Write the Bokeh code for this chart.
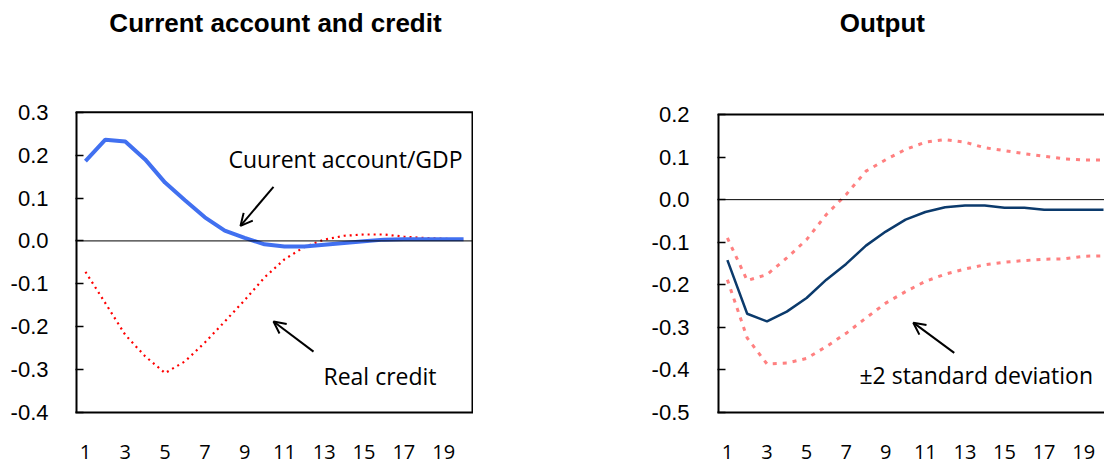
from bokeh.plotting import figure
from bokeh.layouts import row
from bokeh.models import Range1d, FixedTicker, Span, Arrow, OpenHead, Label, NumeralTickFormatter
from bokeh.embed import file_html
from bokeh.resources import INLINE

# ---------------- data ----------------
periods = list(range(1, 21))
x_tick_values = [1, 3, 5, 7, 9, 11, 13, 15, 17, 19]

current_account = [0.186, 0.236, 0.232, 0.190, 0.136, 0.095, 0.055, 0.024, 0.007, -0.008,
                   -0.013, -0.013, -0.009, -0.005, -0.001, 0.003, 0.004, 0.004, 0.004, 0.004]
real_credit = [-0.072, -0.145, -0.219, -0.269, -0.308, -0.281, -0.237, -0.188, -0.138, -0.085,
               -0.043, -0.014, 0.003, 0.012, 0.015, 0.015, 0.010, 0.007, 0.005, 0.003]

output = [-0.142, -0.268, -0.286, -0.263, -0.231, -0.188, -0.151, -0.108, -0.075, -0.047,
          -0.029, -0.018, -0.014, -0.014, -0.019, -0.019, -0.024, -0.024, -0.024, -0.024]
output_upper = [-0.090, -0.190, -0.176, -0.137, -0.094, -0.035, 0.012, 0.067, 0.094, 0.118,
                0.135, 0.141, 0.135, 0.122, 0.115, 0.108, 0.102, 0.096, 0.093, 0.093]
output_lower = [-0.188, -0.325, -0.386, -0.384, -0.373, -0.345, -0.314, -0.278, -0.243, -0.216,
                -0.192, -0.175, -0.163, -0.153, -0.147, -0.143, -0.140, -0.139, -0.133, -0.132]

left_y_ticks = [-0.4, -0.3, -0.2, -0.1, 0.0, 0.1, 0.2, 0.3]
right_y_ticks = [-0.5, -0.4, -0.3, -0.2, -0.1, 0.0, 0.1, 0.2]

left_title = "Current account and credit"
right_title = "Output"
ca_label = "Cuurent account/GDP"
credit_label = "Real credit"
band_label = "\u00b12 standard deviation"

TICK_FONT = "Liberation Sans"
ANN_FONT = "Open Sans"


def make_fig(width, height, mb_left, top_px, plot_px, mb_bottom, x_lo, x_hi, y_lo, y_hi,
             yticks, y_standoff, right_edge):
    # the frame is extended upward over the title area so that the title text lives inside it;
    # the visible box (y_lo..y_hi) is drawn by hand
    y_end = y_hi + (y_hi - y_lo) * top_px / plot_px
    p = figure(width=width, height=height,
               x_range=Range1d(x_lo, x_hi), y_range=Range1d(y_lo, y_end),
               output_backend="svg", toolbar_location=None,
               min_border_left=mb_left, min_border_right=0,
               min_border_top=0, min_border_bottom=mb_bottom)
    p.xgrid.visible = False
    p.ygrid.visible = False
    p.outline_line_color = None
    p.background_fill_color = "white"
    p.border_fill_color = "white"

    xa = p.xaxis[0]
    xa.ticker = FixedTicker(ticks=x_tick_values)
    xa.major_tick_in = 0
    xa.major_tick_out = 0
    xa.minor_tick_line_color = None
    xa.axis_line_color = "black"
    xa.axis_line_width = 2
    xa.major_label_standoff = 32
    xa.major_label_text_font = ANN_FONT
    xa.major_label_text_font_size = "20px"
    xa.major_label_text_color = "black"

    ya = p.yaxis[0]
    ya.ticker = FixedTicker(ticks=yticks)
    ya.formatter = NumeralTickFormatter(format="0.0")
    ya.major_tick_in = 8
    ya.major_tick_out = 0
    ya.major_tick_line_width = 1.5
    ya.major_tick_line_color = "black"
    ya.minor_tick_line_color = None
    ya.axis_line_color = None
    ya.major_label_standoff = y_standoff
    ya.major_label_text_font = TICK_FONT
    ya.major_label_text_font_size = "22px"
    ya.major_label_text_color = "black"

    # box edges
    p.add_layout(Span(location=y_hi, dimension="width", line_color="black", line_width=2))
    edges_x = [x_lo, x_hi] if right_edge else [x_lo]
    p.segment(x0=edges_x, y0=[y_lo] * len(edges_x), x1=edges_x, y1=[y_hi] * len(edges_x),
              line_color="black", line_width=4)
    # zero line
    p.add_layout(Span(location=0, dimension="width", line_color="black", line_width=1))
    return p


def title_label(x, y, text):
    return Label(x=x, y=y, text=text, text_font="Liberation Sans", text_font_size="26px",
                 text_font_style="bold", text_align="center", text_baseline="middle",
                 text_color="black")


def note_label(x, y, text):
    return Label(x=x, y=y, text=text, text_font=ANN_FONT, text_font_size="23px",
                 text_baseline="middle", text_align="left", text_color="black")


def arrow(x0, y0, x1, y1):
    return Arrow(x_start=x0, y_start=y0, x_end=x1, y_end=y1,
                 line_color="black", line_width=2,
                 end=OpenHead(size=12, line_color="black", line_width=2))


# ---------------- left chart ----------------
left = make_fig(473, 463, 75, 112, 301, 50, 0.5, 20.5, -0.4, 0.3, left_y_ticks, 27, True)

left.line(periods, real_credit, line_color="#FF0000", line_width=2.2, line_dash="2 4")
left.line(periods, current_account, line_color="#4170F0", line_width=4)

left.add_layout(title_label(10.55, 0.507, left_title))
left.add_layout(arrow(10.45, 0.126, 8.79, 0.035))
left.add_layout(arrow(12.46, -0.258, 10.45, -0.188))
left.add_layout(note_label(8.19, 0.19, ca_label))
left.add_layout(note_label(12.96, -0.316, credit_label))

# ---------------- right chart ----------------
right = make_fig(631, 463, 244, 114, 298, 51, 0.5, 20.05, -0.5, 0.2, right_y_ticks, 28, False)

right.line(periods, output_upper, line_color="#FF8080", line_width=3, line_dash="4 6")
right.line(periods, output_lower, line_color="#FF8080", line_width=3, line_dash="4 6")
right.line(periods, output, line_color="#0B3A6C", line_width=2.5)

right.add_layout(title_label(8.83, 0.414, right_title))
right.add_layout(arrow(12.46, -0.36, 10.39, -0.289))
right.add_layout(note_label(7.67, -0.412, band_label))

layout = row(left, right, spacing=0)
open("out.html", "w").write(file_html(layout, INLINE))
